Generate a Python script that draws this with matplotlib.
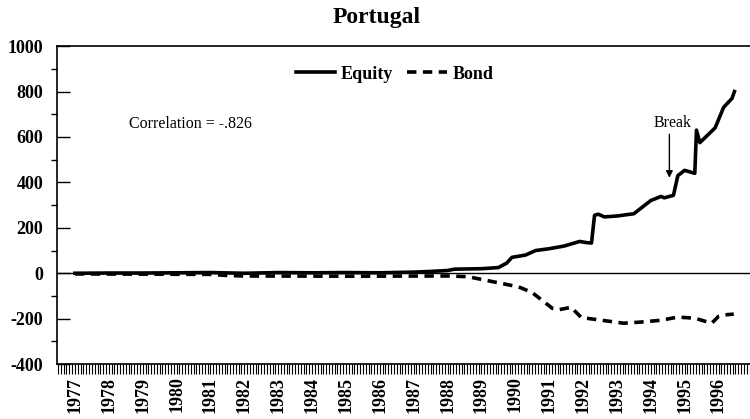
import numpy as np
import matplotlib
matplotlib.use("Agg")
import matplotlib.pyplot as plt
from matplotlib.ticker import MultipleLocator, FixedLocator

# ---------- data ----------
equity_t = [1977.0, 1978.0, 1979.0, 1980.0, 1981.0, 1982.0, 1983.0, 1984.0,
            1985.0, 1986.0, 1987.0, 1987.5, 1988.0, 1988.2, 1989.0, 1989.5,
            1989.75, 1989.9, 1990.3, 1990.6, 1991.0, 1991.45, 1991.9, 1992.1,
            1992.25, 1992.34, 1992.45, 1992.63, 1993.0, 1993.5, 1994.0, 1994.3,
            1994.4, 1994.67, 1994.8, 1995.0, 1995.3, 1995.35, 1995.45, 1995.9,
            1996.15, 1996.4, 1996.47]
equity_v = [0, 1, 1, 2, 3, 0, 3, 2,
            3, 2, 5, 8, 12, 18, 20, 25,
            45, 70, 80, 100, 108, 120, 140, 135,
            133, 255, 260, 248, 252, 262, 320, 338,
            332, 343, 430, 453, 440, 630, 575, 640,
            730, 770, 800]

bond_t = [1977.0, 1981.0, 1981.5, 1982.0, 1985.0, 1988.0, 1988.6, 1989.1,
          1990.1, 1990.5, 1990.8, 1991.1, 1991.3, 1991.65, 1991.95, 1992.55,
          1993.2, 1993.7, 1994.3, 1994.8, 1995.3, 1995.8, 1996.0, 1996.2, 1996.45]
bond_v = [-3, -5, -10, -12, -13, -12, -15, -30,
          -60, -85, -120, -155, -160, -150, -195, -207,
          -220, -215, -207, -193, -198, -220, -190, -183, -180]

years = list(range(1977, 1997))
correlation = "-.826"
break_year = 1994.55

# ---------- style ----------
plt.rcParams["font.family"] = ["Liberation Serif", "DejaVu Serif"]
plt.rcParams["axes.unicode_minus"] = False

fig = plt.figure(figsize=(7.5, 4.19), dpi=100)
ax = fig.add_axes([0.076, 0.131, 0.924, 0.759])

ax.plot(equity_t, equity_v, color="black", lw=2.6, label="Equity",
        solid_joinstyle="round")
ax.plot(bond_t, bond_v, color="black", lw=2.6, ls=(0, (2.6, 1.8)),
        label="Bond")
ax.axhline(0, color="black", lw=1.0)

ax.set_ylim(-400, 1000)
ax.set_xlim(1976.47, 1996.93)

ax.yaxis.set_major_locator(MultipleLocator(200))
ax.yaxis.set_minor_locator(MultipleLocator(100))
ax.tick_params(axis="y", which="major", direction="in", length=9, width=1)
ax.tick_params(axis="y", which="minor", direction="out", length=4, width=1)
ax.tick_params(axis="y", labelsize=13, pad=10)
for lab in ax.get_yticklabels():
    lab.set_fontweight("bold")

ax.xaxis.set_major_locator(FixedLocator(years))
ax.set_xticklabels([str(y) for y in years], rotation=90, fontsize=13,
                   fontweight="bold")
ax.xaxis.set_minor_locator(MultipleLocator(1 / 12))
ax.tick_params(axis="x", which="both", direction="out", length=7, width=0.8)
ax.tick_params(axis="x", which="major", pad=2)

ax.spines["right"].set_visible(False)
for s in ("left", "top", "bottom"):
    ax.spines[s].set_linewidth(1.2)

leg = ax.legend(loc="upper center", bbox_to_anchor=(0.487, 0.99), ncol=2,
                frameon=False, handlelength=2.2, columnspacing=0.8,
                handletextpad=0.3, prop={"weight": "bold", "size": 13})

ax.text(1978.6, 655, f"Correlation = {correlation}", fontsize=11.5,
        va="center", ha="left")

ax.text(break_year + 0.08, 662, "Break", fontsize=11.5, ha="center",
        va="center")
ax.annotate("", xy=(break_year, 420), xytext=(break_year, 612),
            arrowprops=dict(arrowstyle="-|>", color="black", lw=1.0,
                            mutation_scale=10, shrinkA=0, shrinkB=0))

fig.text(0.502, 0.958, "Portugal", fontsize=17, fontweight="bold",
         ha="center", va="center")

fig.savefig("out.png", dpi=100)
